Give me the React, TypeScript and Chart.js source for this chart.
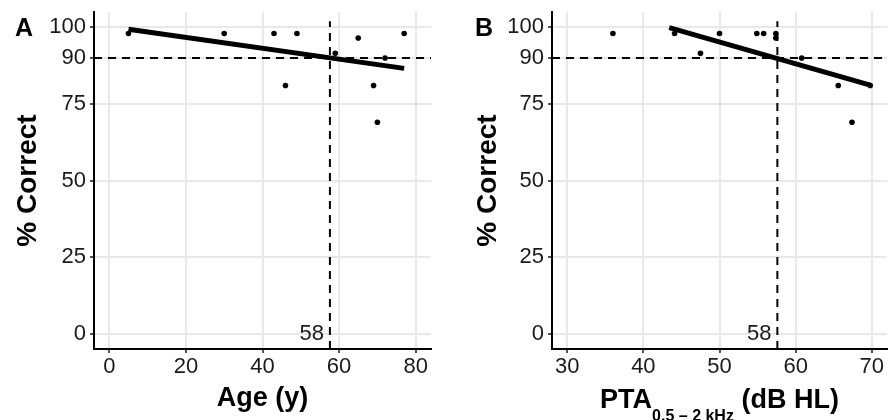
import React, { useEffect, useRef } from "react";
import { Chart, registerables } from "chart.js";
Chart.register(...registerables);

// ---- data ----
const ageX = [5, 30, 43, 46, 49, 59, 65, 69, 70, 72, 77];
const ageY = [98, 98, 98, 81, 98, 91.5, 96.5, 81, 69, 90, 98];
const ptaX = [36.0, 44.1, 47.5, 50.0, 54.9, 55.8, 57.4, 57.4, 60.8, 65.6, 67.4, 69.8];
const ptaY = [98, 98, 91.5, 98, 98, 98, 98, 96.5, 90, 81, 69, 81];
const ageFitX = [5, 77];
const ageFitY = [99.4, 86.6];
const ptaFitX = [43.4, 69.8];
const ptaFitY = [99.9, 81.1];
const criterionY = 90;
const ageCut = 57.6;
const ptaCut = 57.6;
const cutLabel = "58";
const yTicks = [0, 25, 50, 75, 90, 100];
const ageTicks = [0, 20, 40, 60, 80];
const ptaTicks = [30, 40, 50, 60, 70];
const yRange = [-5, 105];
const ageRange = [-4, 84];
const ptaRange = [28, 72];
const vTop = 102;

const FONT = '"Liberation Sans", Arial, sans-serif';
const TICK_SIZE = 22;
const TITLE_SIZE = 27;
const YTITLE_SIZE = 28;
const INK = "#1a1a1a";

function pts(xs: number[], ys: number[]) {
  return xs.map((x, i) => ({ x, y: ys[i] }));
}

function makeConfig(p: any) {
  const annot = {
    id: "annot" + p.letter,
    afterDraw(chart: any) {
      const ctx = chart.ctx;
      const xs = chart.scales.x;
      const ys = chart.scales.y;
      ctx.save();
      // panel letter
      ctx.fillStyle = "#000";
      ctx.font = `bold 25px ${FONT}`;
      ctx.textAlign = "left";
      ctx.textBaseline = "alphabetic";
      ctx.fillText(p.letter, p.letterX, 36);
      // cut label
      ctx.font = `${TICK_SIZE}px ${FONT}`;
      ctx.fillStyle = INK;
      ctx.textAlign = "right";
      ctx.textBaseline = "middle";
      ctx.fillText(cutLabel, xs.getPixelForValue(p.cut) - 6, ys.getPixelForValue(0));
      // custom x title with subscript
      if (p.subTitle) {
        const ca = chart.chartArea;
        const mainF = `bold ${TITLE_SIZE}px ${FONT}`;
        const subF = `bold 16px ${FONT}`;
        ctx.font = mainF;
        const w1 = ctx.measureText(p.subTitle[0]).width;
        const w3 = ctx.measureText(p.subTitle[2]).width;
        ctx.font = subF;
        const w2 = ctx.measureText(p.subTitle[1]).width;
        let x0 = (ca.left + ca.right) / 2 - (w1 + w2 + w3) / 2;
        ctx.fillStyle = "#000";
        ctx.textAlign = "left";
        ctx.textBaseline = "alphabetic";
        ctx.font = mainF;
        ctx.fillText(p.subTitle[0], x0, 408);
        ctx.font = subF;
        ctx.fillText(p.subTitle[1], x0 + w1, 421);
        ctx.font = mainF;
        ctx.fillText(p.subTitle[2], x0 + w1 + w2, 408);
      }
      ctx.restore();
    },
  };

  const grid = {
    color: "#E8E8E8",
    lineWidth: 2,
    tickColor: INK,
    tickLength: 4,
    tickWidth: 1.5,
  };

  return {
    type: "scatter",
    data: {
      datasets: [
        {
          data: [
            { x: p.xRange[0], y: criterionY },
            { x: p.xRange[1], y: criterionY },
          ],
          showLine: true,
          borderColor: "#000",
          borderWidth: 2,
          borderDash: [8, 6],
          pointRadius: 0,
        },
        {
          data: [
            { x: p.cut, y: yRange[0] },
            { x: p.cut, y: vTop },
          ],
          showLine: true,
          borderColor: "#000",
          borderWidth: 2,
          borderDash: [8, 6],
          pointRadius: 0,
        },
        {
          data: pts(p.fitX, p.fitY),
          showLine: true,
          borderColor: "#000",
          borderWidth: 5,
          borderCapStyle: "butt",
          pointRadius: 0,
        },
        {
          data: pts(p.xs, p.ys),
          pointRadius: 2.8,
          pointBackgroundColor: "#000",
          pointBorderWidth: 0,
        },
      ],
    },
    options: {
      animation: false,
      responsive: false,
      devicePixelRatio: 1,
      layout: { padding: { top: 12, right: p.padRight, left: 0, bottom: 0 } },
      plugins: { legend: { display: false }, tooltip: { enabled: false } },
      scales: {
        x: {
          type: "linear",
          min: p.xRange[0],
          max: p.xRange[1],
          afterBuildTicks: (s: any) => {
            s.ticks = p.xTicks.map((v: number) => ({ value: v }));
          },
          afterFit: (s: any) => {
            s.height = 71;
            s.paddingLeft = 0;
            s.paddingRight = 0;
          },
          grid,
          border: { display: true, color: "#000", width: 2 },
          ticks: {
            font: { family: FONT, size: TICK_SIZE, lineHeight: 1 },
            color: INK,
            padding: 3,
            maxRotation: 0,
            autoSkip: false,
          },
          title: p.xTitle
            ? {
                display: true,
                text: p.xTitle,
                color: "#000",
                font: { family: FONT, size: TITLE_SIZE, weight: "bold", lineHeight: 1 },
                padding: { top: 0, bottom: 8 },
              }
            : { display: false },
        },
        y: {
          type: "linear",
          min: yRange[0],
          max: yRange[1],
          afterBuildTicks: (s: any) => {
            s.ticks = yTicks.map((v) => ({ value: v }));
          },
          afterFit: (s: any) => {
            s.width = p.yWidth;
            s.paddingTop = 0;
            s.paddingBottom = 0;
          },
          grid,
          border: { display: true, color: "#000", width: 2 },
          ticks: {
            font: { family: FONT, size: TICK_SIZE, lineHeight: 1 },
            color: INK,
            padding: 4,
            autoSkip: false,
          },
          title: {
            display: true,
            text: "% Correct",
            color: "#000",
            font: { family: FONT, size: YTITLE_SIZE, weight: "bold", lineHeight: 1 },
            padding: { top: p.yTitlePad, bottom: 0 },
          },
        },
      },
    },
    plugins: [annot],
  };
}

function Panel({ left, width, params }: { left: number; width: number; params: any }) {
  const ref = useRef<HTMLCanvasElement | null>(null);
  useEffect(() => {
    if (!ref.current) return;
    const chart = new Chart(ref.current, makeConfig(params) as any);
    return () => chart.destroy();
  }, []);
  return (
    <div style={{ position: "absolute", left, top: 0, width, height: 420 }}>
      <canvas ref={ref} width={width} height={420} style={{ width, height: 420, display: "block" }} />
    </div>
  );
}

export default function App() {
  const a = {
    letter: "A",
    letterX: 15,
    xs: ageX,
    ys: ageY,
    fitX: ageFitX,
    fitY: ageFitY,
    cut: ageCut,
    xRange: ageRange,
    xTicks: ageTicks,
    xTitle: "Age (y)",
    yWidth: 94,
    padRight: 14,
    yTitlePad: 14,
  };
  const b = {
    letter: "B",
    letterX: 30,
    xs: ptaX,
    ys: ptaY,
    fitX: ptaFitX,
    fitY: ptaFitY,
    cut: ptaCut,
    xRange: ptaRange,
    xTicks: ptaTicks,
    xTitle: null,
    subTitle: ["PTA", "0.5 \u2013 2 kHz", " (dB HL)"],
    yWidth: 107,
    padRight: 1,
    yTitlePad: 29,
  };
  return (
    <div
      style={{
        position: "fixed",
        left: 0,
        top: 0,
        width: 889,
        height: 420,
        overflow: "hidden",
        background: "#fff",
      }}
    >
      <Panel left={0} width={445} params={a} />
      <Panel left={445} width={446} params={b} />
    </div>
  );
}
